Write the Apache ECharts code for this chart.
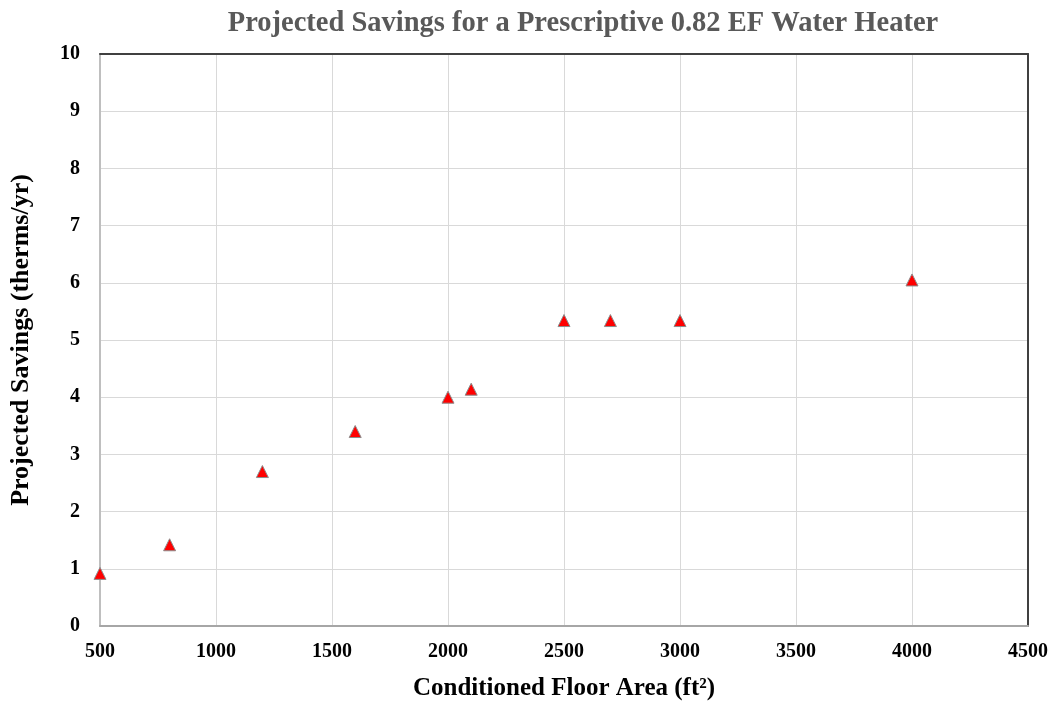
<!DOCTYPE html>
<html>
<head>
<meta charset="utf-8">
<script src="https://cdn.jsdelivr.net/npm/echarts@6/dist/echarts.min.js"></script>
<style>html,body{margin:0;padding:0;background:#fff;overflow:hidden;}#c{width:1051px;height:706px;}</style>
</head>
<body>
<div id="c"></div>
<script>
const floorArea = [500, 800, 1200, 1600, 2000, 2100, 2500, 2700, 3000, 4000];
const savings = [0.92, 1.42, 2.70, 3.40, 4.00, 4.14, 5.34, 5.34, 5.34, 6.05];
const titleText = 'Projected Savings for a Prescriptive 0.82 EF Water Heater';
const xName = 'Conditioned Floor Area (ft²)';
const yName = 'Projected Savings (therms/yr)';

const FONT = '"Liberation Serif", "Times New Roman", serif';
const chart = echarts.init(document.getElementById('c'), null, {renderer: 'canvas'});
chart.setOption({
  animation: false,
  backgroundColor: '#ffffff',
  title: {
    text: titleText,
    left: 578, top: 4, textAlign: 'center',
    textStyle: {fontFamily: FONT, fontWeight: 'bold', fontSize: 28.5, color: '#595959'}
  },
  grid: {left: 100, right: 22, top: 54, bottom: 76, containLabel: false},
  xAxis: [{
    type: 'value', min: 500, max: 4500, interval: 500,
    name: xName, nameLocation: 'middle', nameGap: 50,
    nameTextStyle: {fontFamily: FONT, fontWeight: 'bold', fontSize: 25, color: '#000'},
    axisLine: {show: true, lineStyle: {color: '#a6a6a6', width: 2}},
    axisTick: {show: false},
    axisLabel: {fontFamily: FONT, fontWeight: 'bold', fontSize: 20, color: '#000', margin: 16,
      formatter: v => String(v)},
    splitLine: {show: true, lineStyle: {color: '#d9d9d9', width: 1}}
  }, {
    type: 'value', position: 'top', min: 500, max: 4500,
    axisLine: {show: true, onZero: false, lineStyle: {color: '#404040', width: 2}},
    axisTick: {show: false}, axisLabel: {show: false}, splitLine: {show: false}
  }],
  yAxis: [{
    type: 'value', min: 0, max: 10, interval: 1,
    name: yName, nameLocation: 'middle', nameGap: 66,
    nameTextStyle: {fontFamily: FONT, fontWeight: 'bold', fontSize: 26, color: '#000'},
    axisLine: {show: true, lineStyle: {color: '#bfbfbf', width: 2}},
    axisTick: {show: false},
    axisLabel: {fontFamily: FONT, fontWeight: 'bold', fontSize: 20, color: '#000', margin: 20},
    splitLine: {show: true, lineStyle: {color: '#d9d9d9', width: 1}}
  }, {
    type: 'value', position: 'right', min: 0, max: 10,
    axisLine: {show: true, onZero: false, lineStyle: {color: '#404040', width: 2}},
    axisTick: {show: false}, axisLabel: {show: false}, splitLine: {show: false}
  }],
  series: [{
    type: 'scatter',
    xAxisIndex: 0, yAxisIndex: 0,
    clip: false,
    symbol: 'triangle',
    symbolSize: 12,
    itemStyle: {color: '#ff0000', borderColor: '#8c8c8c', borderWidth: 1, opacity: 1},
    data: floorArea.map((x, i) => [x, savings[i]])
  }]
});
</script>
</body>
</html>
